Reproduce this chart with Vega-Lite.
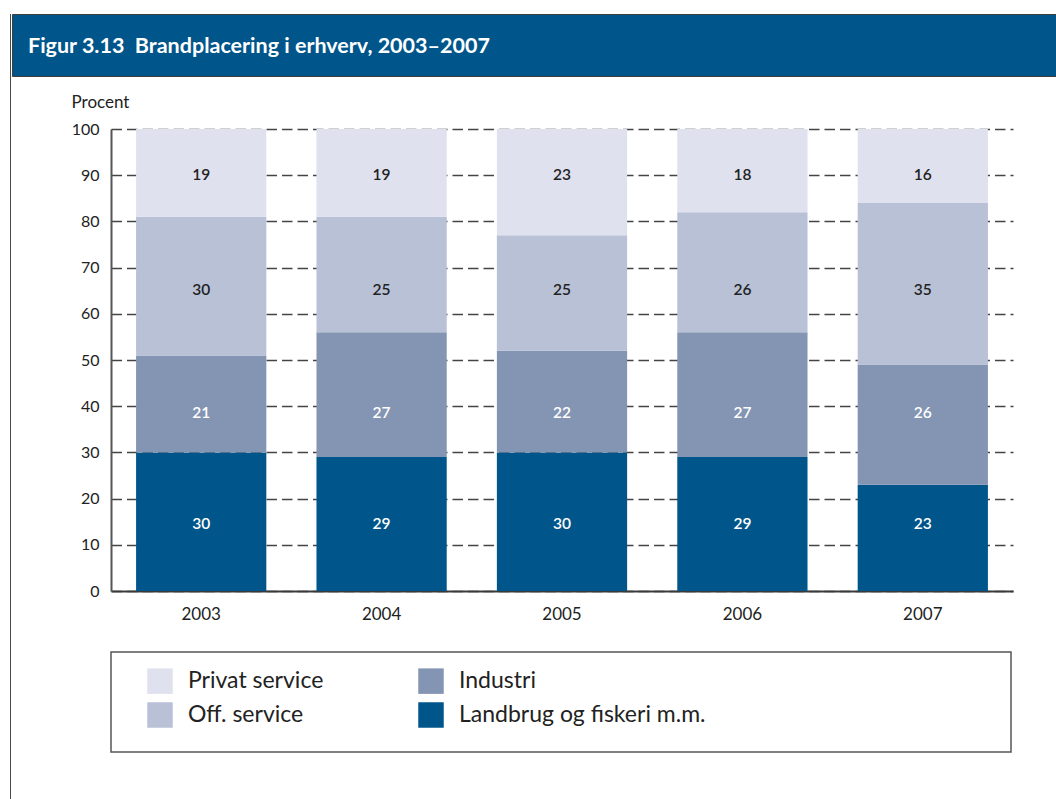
{
  "$schema": "https://vega.github.io/schema/vega-lite/v6.json",
  "background": "white",
  "padding": {"left": 10, "top": 13, "right": 0, "bottom": 0},
  "spacing": 0,
  "config": {"font": "Lato", "view": {"stroke": null}},
  "datasets": {
    "blank": [{"k": ""}],
    "shares": [
      {"year": "2003", "cat": "Landbrug og fiskeri m.m.", "ord": 1, "value": 30},
      {"year": "2003", "cat": "Industri", "ord": 2, "value": 21},
      {"year": "2003", "cat": "Off. service", "ord": 3, "value": 30},
      {"year": "2003", "cat": "Privat service", "ord": 4, "value": 19},
      {"year": "2004", "cat": "Landbrug og fiskeri m.m.", "ord": 1, "value": 29},
      {"year": "2004", "cat": "Industri", "ord": 2, "value": 27},
      {"year": "2004", "cat": "Off. service", "ord": 3, "value": 25},
      {"year": "2004", "cat": "Privat service", "ord": 4, "value": 19},
      {"year": "2005", "cat": "Landbrug og fiskeri m.m.", "ord": 1, "value": 30},
      {"year": "2005", "cat": "Industri", "ord": 2, "value": 22},
      {"year": "2005", "cat": "Off. service", "ord": 3, "value": 25},
      {"year": "2005", "cat": "Privat service", "ord": 4, "value": 23},
      {"year": "2006", "cat": "Landbrug og fiskeri m.m.", "ord": 1, "value": 29},
      {"year": "2006", "cat": "Industri", "ord": 2, "value": 27},
      {"year": "2006", "cat": "Off. service", "ord": 3, "value": 26},
      {"year": "2006", "cat": "Privat service", "ord": 4, "value": 18},
      {"year": "2007", "cat": "Landbrug og fiskeri m.m.", "ord": 1, "value": 23},
      {"year": "2007", "cat": "Industri", "ord": 2, "value": 26},
      {"year": "2007", "cat": "Off. service", "ord": 3, "value": 35},
      {"year": "2007", "cat": "Privat service", "ord": 4, "value": 16}
    ]
  },
  "hconcat": [
    {
      "width": 1, "height": 786,
      "data": {"name": "blank"},
      "mark": {"type": "text", "text": ""},
      "view": {"fill": "#4a4a4a", "stroke": null}
    },
    {
      "vconcat": [
        {
          "width": 1050, "height": 62,
          "data": {"values": [{"t": "Figur 3.13\u00a0 Brandplacering i erhverv, 2003–2007"}]},
          "mark": {"type": "text", "align": "left", "baseline": "middle", "dx": 16, "dy": 2, "color": "white", "fontSize": 21.5, "fontWeight": "bold"},
          "encoding": {
            "text": {"field": "t", "type": "nominal"},
            "x": {"datum": 0, "type": "quantitative", "scale": {"domain": [0, 1]}, "axis": null}
          },
          "view": {"fill": "#00568a", "stroke": "#3d3d3d", "strokeWidth": 1}
        },
        {
          "hconcat": [
            {
              "width": 1, "height": 1,
              "data": {"name": "blank"},
              "mark": {"type": "text", "text": ""}
            },
            {
              "vconcat": [
                {
                  "width": 902, "height": 462,
                  "data": {"name": "shares"},
                  "encoding": {
                    "x": {
                      "field": "year", "type": "ordinal",
                      "scale": {"paddingInner": 0.278, "paddingOuter": 0.139},
                      "axis": {
                        "title": null, "labelAngle": 0, "ticks": false,
                        "domainColor": "#3a3a3a", "domainWidth": 2,
                        "labelFontSize": 17, "labelColor": "#222", "labelPadding": 15
                      }
                    }
                  },
                  "layer": [
                    {
                      "mark": {"type": "bar"},
                      "encoding": {
                        "y": {
                          "field": "value", "type": "quantitative", "stack": "zero",
                          "scale": {"domain": [0, 100]},
                          "axis": {
                            "values": [0, 10, 20, 30, 40, 50, 60, 70, 80, 90, 100],
                            "grid": true, "gridDash": [10.5, 5], "gridColor": "#444", "gridWidth": 1.3,
                            "ticks": false, "domainColor": "#555", "domainWidth": 2,
                            "labelFontSize": 16, "labelColor": "#222", "labelPadding": 12,
                            "title": "Procent", "titleAngle": 0, "titleX": -40, "titleY": -27,
                            "titleAlign": "left", "titleBaseline": "middle",
                            "titleFontSize": 17, "titleFontWeight": "normal", "titleColor": "#222"
                          }
                        },
                        "color": {
                          "field": "cat", "type": "nominal",
                          "scale": {
                            "domain": ["Privat service", "Industri", "Off. service", "Landbrug og fiskeri m.m."],
                            "range": ["#dfe1ee", "#8395b3", "#b9c1d6", "#00568a"]
                          },
                          "legend": {
                            "title": null, "orient": "none", "legendX": 137, "legendY": 654,
                            "columns": 2, "direction": "horizontal",
                            "symbolType": "square", "symbolSize": 650, "symbolStrokeWidth": 0,
                            "labelFontSize": 23, "labelColor": "#222", "labelOffset": 15,
                            "columnPadding": 94, "rowPadding": 8, "labelLimit": 400
                          }
                        },
                        "order": {"field": "ord", "type": "quantitative"}
                      }
                    },
                    {
                      "transform": [
                        {"calculate": "datum.ord == 1 ? 14.5 : datum.ord == 2 ? 38.6 : datum.ord == 3 ? 65.2 : 90.0", "as": "labpos"}
                      ],
                      "mark": {"type": "text", "fontSize": 15.5, "fontWeight": 600, "baseline": "middle"},
                      "encoding": {
                        "y": {"field": "labpos", "type": "quantitative"},
                        "text": {"field": "value", "type": "quantitative"},
                        "color": {"condition": {"test": "datum.ord <= 2", "value": "white"}, "value": "#222"}
                      }
                    }
                  ]
                },
                {
                  "width": 900, "height": 100,
                  "data": {"name": "blank"},
                  "mark": {"type": "text", "text": ""},
                  "view": {"stroke": "#555", "strokeWidth": 1.5}
                }
              ],
              "spacing": 29
            }
          ],
          "spacing": 58
        }
      ],
      "spacing": 16
    }
  ]
}
